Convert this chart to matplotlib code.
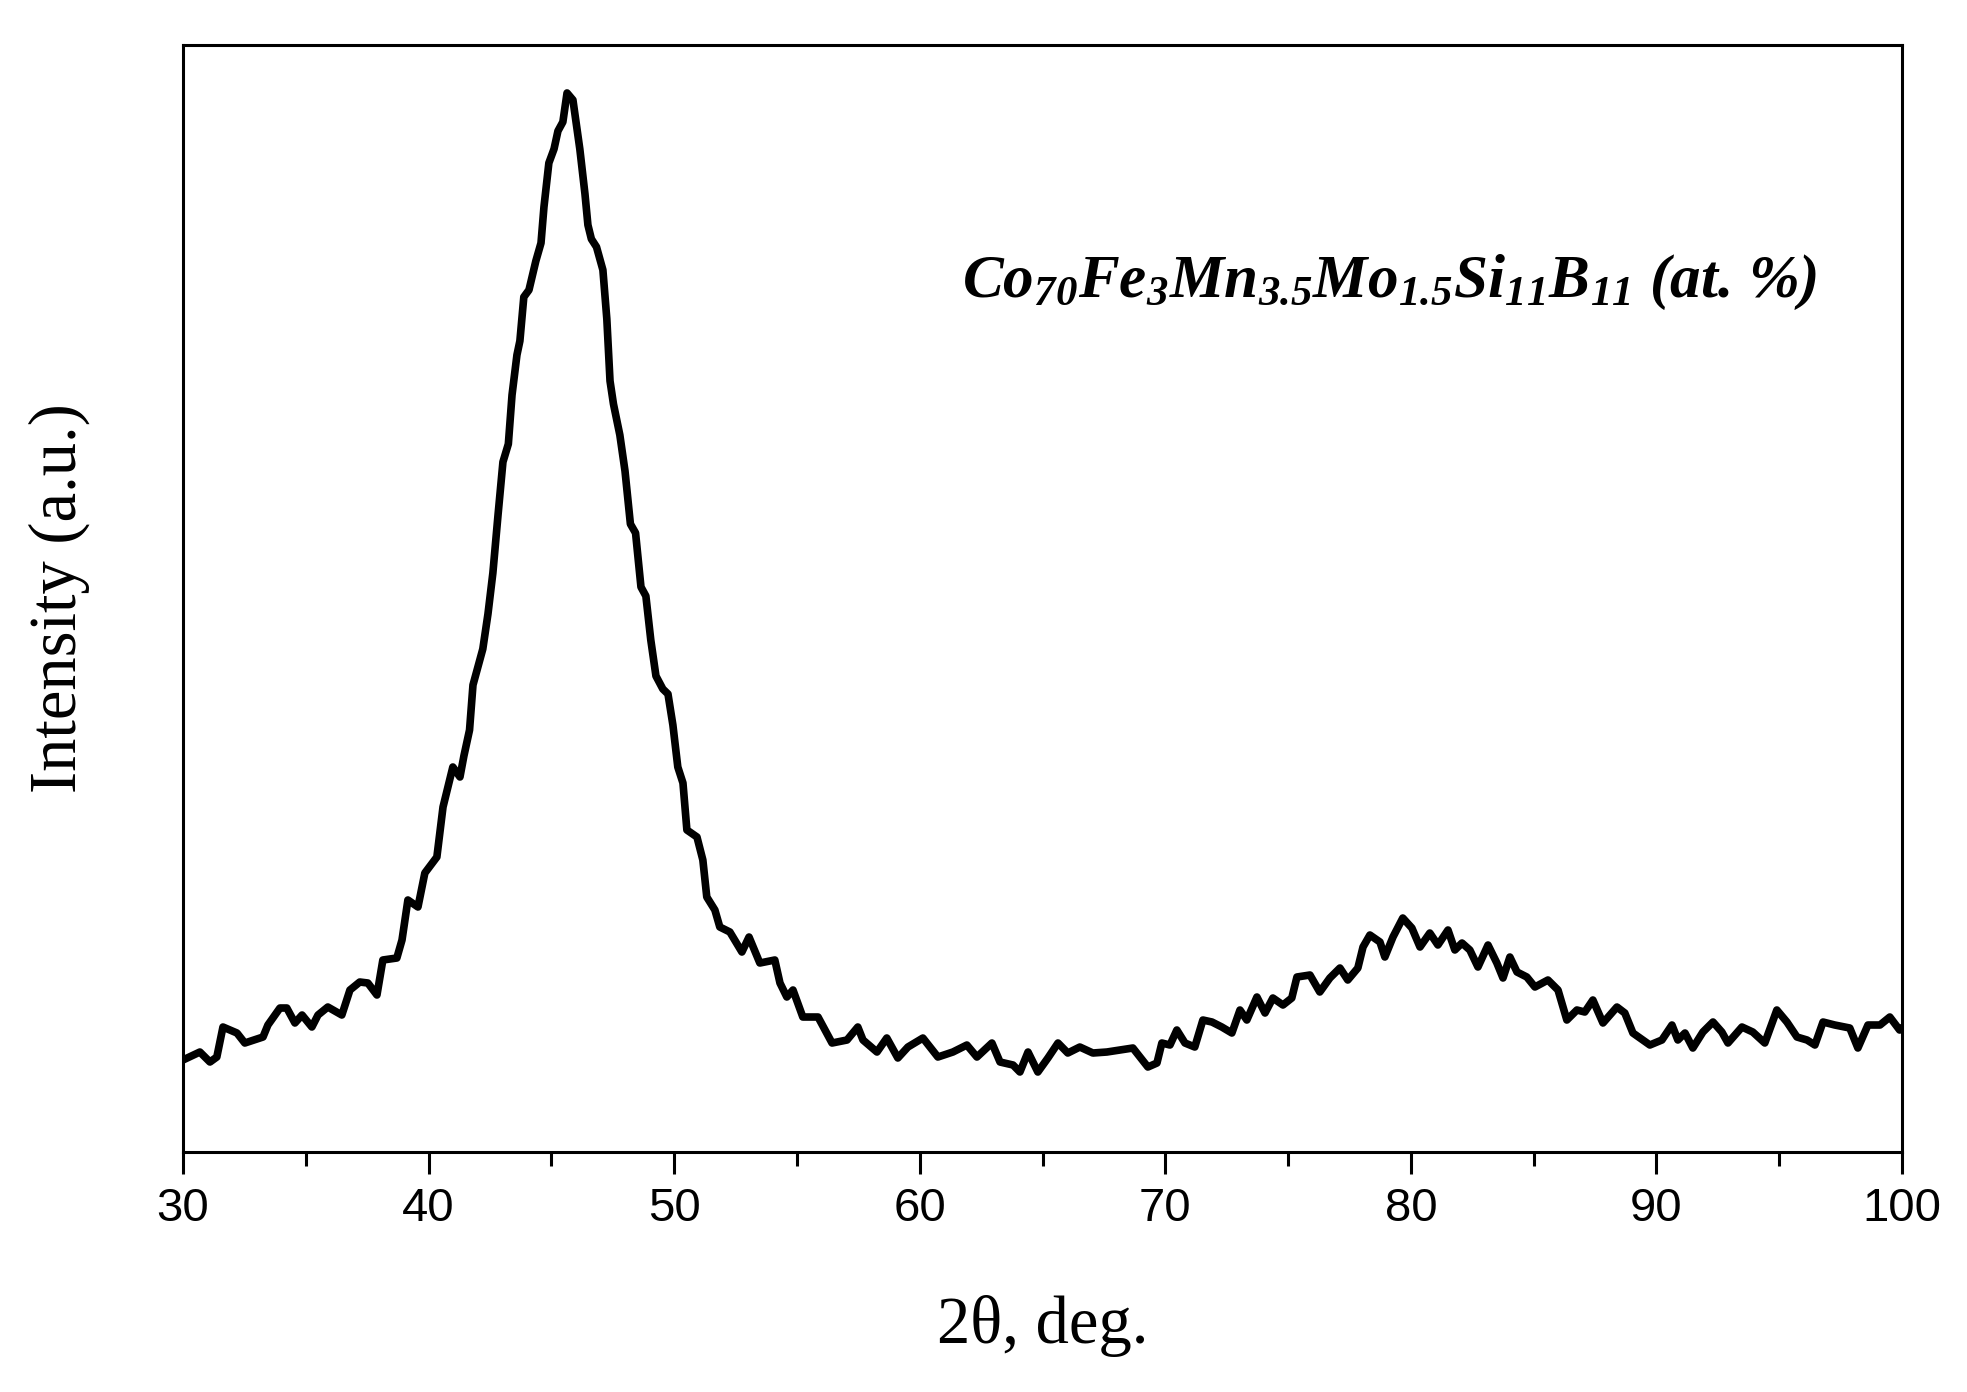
import matplotlib.pyplot as plt
from matplotlib.ticker import MultipleLocator

# XRD pattern (intensity in arbitrary units)
two_theta = [30.0, 30.69, 31.1, 31.38, 31.63, 32.2, 32.52, 33.26, 33.46, 33.95,
             34.23, 34.56, 34.85, 35.25, 35.5, 35.9, 36.47, 36.8, 37.2, 37.53,
             37.9, 38.14, 38.71, 38.92, 39.16, 39.57, 39.85, 40.34, 40.59, 40.99,
             41.28, 41.44, 41.67, 41.81, 42.01, 42.21, 42.42, 42.62, 42.83, 43.03,
             43.25, 43.4, 43.6, 43.72, 43.88, 44.09, 44.37, 44.58, 44.7, 44.9,
             45.11, 45.27, 45.47, 45.64, 45.88, 46.16, 46.37, 46.49, 46.63, 46.84,
             47.1, 47.26, 47.39, 47.53, 47.79, 48.0, 48.22, 48.43, 48.65, 48.85,
             49.05, 49.26, 49.54, 49.75, 49.95, 50.15, 50.36, 50.52, 50.93, 51.17,
             51.33, 51.66, 51.86, 52.27, 52.76, 53.05, 53.49, 54.1, 54.31, 54.59,
             54.84, 55.24, 55.86, 56.43, 57.04, 57.48, 57.69, 58.26, 58.66, 59.11,
             59.52, 60.13, 60.74, 61.35, 61.92, 62.33, 62.94, 63.27, 63.8, 64.08,
             64.41, 64.81, 65.22, 65.63, 66.03, 66.52, 67.05, 67.62, 68.15, 68.68,
             69.29, 69.66, 69.86, 70.19, 70.47, 70.8, 71.2, 71.53, 71.9, 72.3,
             72.71, 73.04, 73.32, 73.73, 74.06, 74.38, 74.79, 75.15, 75.36, 75.89,
             76.29, 76.7, 77.11, 77.43, 77.84, 78.05, 78.33, 78.74, 78.94, 79.27,
             79.67, 80.04, 80.37, 80.77, 81.1, 81.51, 81.79, 82.08, 82.4, 82.73,
             83.14, 83.5, 83.75, 84.03, 84.32, 84.72, 85.05, 85.58, 85.99, 86.35,
             86.76, 87.08, 87.41, 87.82, 88.39, 88.71, 89.04, 89.73, 90.22, 90.63,
             90.87, 91.16, 91.48, 91.89, 92.3, 92.66, 92.91, 93.48, 93.92, 94.41,
             94.9, 95.31, 95.72, 96.13, 96.45, 96.78, 97.26, 97.87, 98.2, 98.61,
             99.1, 99.5, 99.9, 100.0]

intensity = [92, 100, 90, 95, 125, 119, 109, 115, 127, 144,
             144, 129, 137, 125, 137, 145, 137, 162, 170, 169,
             157, 192, 194, 212, 252, 245, 279, 295, 345, 385,
             375, 396, 422, 467, 485, 503, 538, 579, 637, 690,
             708, 757, 797, 811, 855, 862, 891, 909, 945, 989,
             1003, 1021, 1030, 1059, 1052, 1003, 958, 927, 913, 905,
             882, 833, 771, 748, 717, 681, 628, 619, 565, 556,
             512, 476, 463, 458, 427, 385, 369, 322, 315, 292,
             255, 242, 225, 220, 200, 215, 189, 192, 169, 155,
             162, 135, 135, 109, 112, 125, 112, 100, 114, 94,
             105, 114, 95, 100, 107, 95, 109, 90, 87, 80,
             100, 80, 94, 109, 99, 105, 99, 100, 102, 104,
             85, 89, 109, 107, 122, 109, 105, 132, 130, 125,
             119, 142, 132, 155, 139, 154, 147, 154, 175, 177,
             160, 174, 184, 172, 184, 205, 217, 210, 195, 215,
             234, 224, 205, 219, 207, 222, 202, 209, 202, 185,
             207, 189, 174, 195, 180, 175, 165, 172, 162, 132,
             142, 140, 152, 129, 145, 139, 119, 107, 112, 127,
             112, 119, 104, 120, 130, 120, 109, 125, 120, 109,
             142, 130, 115, 112, 107, 130, 127, 124, 104, 127,
             127, 135, 122, 124]

x_ticks = [30, 40, 50, 60, 70, 80, 90, 100]

# subscripts in the same bold italic serif as the label text
plt.rcParams['mathtext.fontset'] = 'custom'
plt.rcParams['mathtext.rm'] = 'Liberation Serif:italic:bold'
plt.rcParams['mathtext.it'] = 'Liberation Serif:italic:bold'
plt.rcParams['mathtext.bf'] = 'Liberation Serif:italic:bold'

fig = plt.figure(figsize=(19.67, 13.92), dpi=100)
ax = fig.add_axes([0.093, 0.1724, 0.874, 0.7953])

ax.plot(two_theta, intensity, color="black", linewidth=5.5)

ax.set_xlim(30, 100)
ax.set_ylim(0, 1107)

ax.set_xticks(x_ticks)
ax.xaxis.set_minor_locator(MultipleLocator(5))
ax.set_yticks([])
ax.tick_params(axis="x", which="major", direction="out", length=16, width=2.2,
               pad=9, labelsize=34)
ax.tick_params(axis="x", which="minor", direction="out", length=10, width=2.2)
for lbl in ax.get_xticklabels():
    lbl.set_fontfamily("Liberation Sans")

for sp in ax.spines.values():
    sp.set_linewidth(2.2)

ax.set_xlabel("2θ, deg.", family="Liberation Serif", fontsize=48)
ax.set_ylabel("Intensity (a.u.)", family="Liberation Serif", fontsize=48)
ax.xaxis.set_label_coords(0.5, -0.129)
ax.yaxis.set_label_coords(-0.054, 0.5)

ax.text(0.951, 0.772,
        r"Co$_{70}$Fe$_{3}$Mn$_{3.5}$Mo$_{1.5}$Si$_{11}$B$_{11}$ (at. %)",
        transform=ax.transAxes, ha="right", va="baseline", fontsize=44,
        family="Liberation Serif", style="italic", weight="bold")

fig.savefig("out.png", dpi=100)
